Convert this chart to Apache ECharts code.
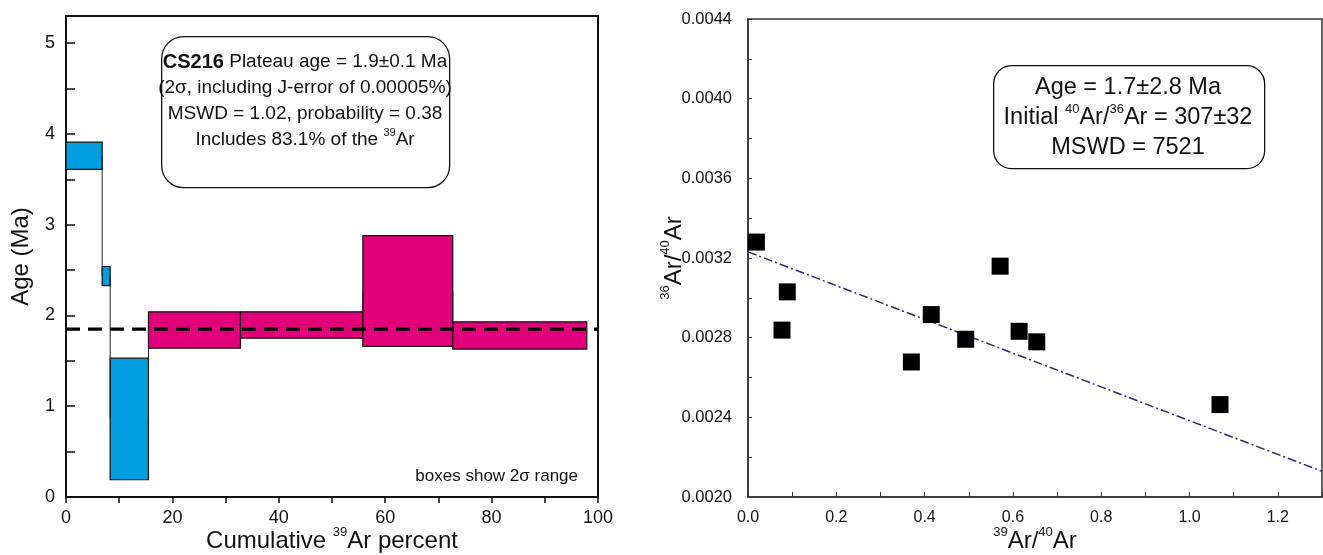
<!DOCTYPE html>
<html>
<head>
<meta charset="utf-8">
<script src="https://cdn.jsdelivr.net/npm/echarts@6/dist/echarts.min.js"></script>
<style>
  html, body { margin: 0; padding: 0; background: #fff; }
  #chart { width: 1323px; height: 555px; }
</style>
</head>
<body>
<div id="chart"></div>
<script>
// age spectrum steps (cumulative 39Ar %, age in Ma, 2 sigma box)
const stepStart = [0, 6.8, 8.3, 15.5, 32.8, 55.8, 72.7];
const stepEnd = [6.8, 8.3, 15.5, 32.8, 55.8, 72.7, 97.9];
const ageLow = [3.61, 2.33, 0.19, 1.64, 1.75, 1.66, 1.63];
const ageHigh = [3.91, 2.54, 1.53, 2.04, 2.04, 2.88, 1.93];
const inPlateau = [0, 0, 0, 1, 1, 1, 1];
const plateauAge = 1.85;
const plateauSpan = [0, 100];

// inverse isochron points
const isoX = [0.019, 0.089, 0.077, 0.370, 0.415, 0.493, 0.571, 0.614, 0.654, 1.069];
const isoY = [0.00328, 0.00303, 0.002838, 0.002678, 0.002916, 0.002792, 0.003159, 0.002832, 0.002779, 0.002464];
const fitX = [0, 1.3];
const fitY = [0.003231, 0.002129];

const font = "Liberation Sans, Arial, sans-serif";
const BLUE = "#009ee0";
const MAGENTA = "#e2007a";

const chart = echarts.init(document.getElementById("chart"));

const supRich = {
  n: { fontSize: 24, lineHeight: 30, fontFamily: font, color: "#111" },
  s: { fontSize: 13, lineHeight: 15, verticalAlign: "top", fontFamily: font, color: "#111" },
};

function boxRender(params, api) {
  const a = api.coord([api.value(0), api.value(3)]);
  const b = api.coord([api.value(1), api.value(2)]);
  return {
    type: "rect",
    shape: { x: a[0], y: a[1], width: b[0] - a[0], height: b[1] - a[1] },
    style: { fill: api.value(4) ? MAGENTA : BLUE, stroke: "#111", lineWidth: 1.2 },
  };
}

function linkRender(params, api) {
  const a = api.coord([api.value(0), api.value(1)]);
  const b = api.coord([api.value(0), api.value(2)]);
  return {
    type: "line",
    shape: { x1: a[0], y1: a[1], x2: b[0], y2: b[1] },
    style: { stroke: "#222", lineWidth: 1 },
  };
}

const boxes = stepStart.map((s, i) => [s, stepEnd[i], ageLow[i], ageHigh[i], inPlateau[i]]);
const mids = ageLow.map((lo, i) => (lo + ageHigh[i]) / 2);
const links = stepEnd.slice(0, -1).map((x, i) => [x, mids[i], mids[i + 1]]);

const option = {
  backgroundColor: "#fff",
  textStyle: { fontFamily: font },
  animation: false,
  grid: [
    { left: 66, top: 16, width: 532, height: 481, outerBoundsMode: "none", show: true, borderColor: "#111", borderWidth: 2, backgroundColor: "transparent" },
    { left: 748, top: 19, width: 574, height: 478, outerBoundsMode: "none", show: true, borderColor: "#333", borderWidth: 1.5, backgroundColor: "transparent" },
  ],
  xAxis: [
    {
      gridIndex: 0, type: "value", min: 0, max: 100, interval: 20,
      axisLine: { lineStyle: { color: "#111", width: 2 } },
      axisTick: { inside: false, length: 6, lineStyle: { color: "#111", width: 1.5 } },
      minorTick: { show: true, splitNumber: 2, length: 6, lineStyle: { color: "#111", width: 1.5 } },
      splitLine: { show: false },
      axisLabel: { margin: 12, fontSize: 18, color: "#111", fontFamily: font },
      name: "{n|Cumulative }{s|39}{n|Ar percent}",
      nameLocation: "middle", nameGap: 29, nameMoveOverlap: false,
      nameTextStyle: { rich: supRich },
    },
    {
      gridIndex: 1, type: "value", min: 0, max: 1.3, interval: 0.2,
      axisLine: { lineStyle: { color: "#333", width: 1.5 } },
      axisTick: { inside: true, length: 5, lineStyle: { color: "#333" } },
      minorTick: { show: true, splitNumber: 2, length: 5, lineStyle: { color: "#333" } },
      splitLine: { show: false },
      axisLabel: {
        margin: 13, fontSize: 16, color: "#111", fontFamily: font,
        formatter: (v) => (Math.abs(v / 0.2 - Math.round(v / 0.2)) < 1e-6 ? v.toFixed(1) : ""),
      },
      name: "{s|39}{n|Ar/}{s|40}{n|Ar}",
      nameLocation: "middle", nameGap: 29, nameMoveOverlap: false,
      nameTextStyle: { rich: supRich },
    },
  ],
  yAxis: [
    {
      gridIndex: 0, type: "value", min: 0, max: 5.3, interval: 1,
      axisLine: { lineStyle: { color: "#111", width: 2 } },
      axisTick: { inside: true, length: 9, lineStyle: { color: "#111", width: 1.5 } },
      minorTick: { show: true, splitNumber: 2, length: 9, lineStyle: { color: "#111", width: 1.5 } },
      splitLine: { show: false },
      axisLabel: {
        margin: 11, fontSize: 18, color: "#111", fontFamily: font,
        formatter: (v) => (Number.isInteger(v) ? String(v) : ""),
      },
      name: "Age (Ma)",
      nameLocation: "middle", nameGap: 33, nameMoveOverlap: false,
      nameTextStyle: { fontSize: 24, color: "#111", fontFamily: font },
    },
    {
      gridIndex: 1, type: "value", min: 0.002, max: 0.0044, interval: 0.0004,
      axisLine: { lineStyle: { color: "#333", width: 1.5 } },
      axisTick: { inside: true, length: 4, lineStyle: { color: "#333" } },
      minorTick: { show: true, splitNumber: 2, length: 4, lineStyle: { color: "#333" } },
      splitLine: { show: false },
      axisLabel: {
        margin: 16, fontSize: 16.5, color: "#111", fontFamily: font,
        formatter: (v) => v.toFixed(4),
      },
      name: "{s|36}{n|Ar/}{s|40}{n|Ar}",
      nameLocation: "middle", nameGap: 59, nameMoveOverlap: false,
      nameTextStyle: { rich: supRich },
    },
  ],
  series: [
    {
      type: "custom", xAxisIndex: 0, yAxisIndex: 0,
      renderItem: boxRender,
      encode: { x: [0, 1], y: [2, 3] },
      data: boxes,
    },
    {
      type: "custom", xAxisIndex: 0, yAxisIndex: 0,
      renderItem: linkRender,
      encode: { x: 0, y: [1, 2] },
      data: links,
    },
    {
      type: "line", xAxisIndex: 0, yAxisIndex: 0,
      symbol: "none",
      lineStyle: { color: "#000", width: 3.2, type: [14, 8] },
      data: plateauSpan.map((x) => [x, plateauAge]),
      z: 5,
    },
    {
      type: "line", xAxisIndex: 1, yAxisIndex: 1,
      symbol: "none",
      lineStyle: { color: "#2a2a80", width: 1.5, type: [9, 3, 2, 3] },
      data: fitX.map((x, i) => [x, fitY[i]]),
    },
    {
      type: "scatter", xAxisIndex: 1, yAxisIndex: 1,
      symbol: "rect", symbolSize: 17,
      itemStyle: { color: "#000", opacity: 1 },
      data: isoX.map((x, i) => [x, isoY[i]]),
      z: 4,
    },
  ],
  graphic: [
    {
      type: "rect", left: 161, top: 36,
      shape: { width: 288, height: 151, r: 22 },
      style: { fill: "#fff", stroke: "#111", lineWidth: 1.3 },
      z: 10,
    },
    {
      type: "text", x: 305, y: 101, z: 11,
      style: {
        text: "{b|CS216} Plateau age = 1.9±0.1 Ma\n(2σ, including J-error of 0.00005%)\nMSWD = 1.02, probability = 0.38\nIncludes 83.1% of the {s|39}Ar",
        align: "center", verticalAlign: "middle",
        fontSize: 19, lineHeight: 26, fontFamily: font, fill: "#111",
        rich: {
          b: { fontSize: 20, lineHeight: 26, fontWeight: "bold", fontFamily: font, fill: "#111" },
          s: { fontSize: 11, lineHeight: 14, verticalAlign: "top", fontFamily: font, fill: "#111" },
        },
      },
    },
    {
      type: "rect", left: 993, top: 65,
      shape: { width: 271, height: 103, r: 18 },
      style: { fill: "#fff", stroke: "#111", lineWidth: 1.3 },
      z: 10,
    },
    {
      type: "text", x: 1128, y: 118, z: 11,
      style: {
        text: "Age = 1.7±2.8 Ma\nInitial {s|40}Ar/{s|36}Ar = 307±32\nMSWD = 7521",
        align: "center", verticalAlign: "middle",
        fontSize: 23.5, lineHeight: 30, fontFamily: font, fill: "#111",
        rich: {
          s: { fontSize: 13, lineHeight: 16, verticalAlign: "top", fontFamily: font, fill: "#111" },
        },
      },
    },
    {
      type: "text", x: 578, y: 476, z: 11,
      style: {
        text: "boxes show 2σ range",
        align: "right", verticalAlign: "middle",
        fontSize: 17, fontFamily: font, fill: "#111",
      },
    },
  ],
};

chart.setOption(option);
</script>
</body>
</html>
